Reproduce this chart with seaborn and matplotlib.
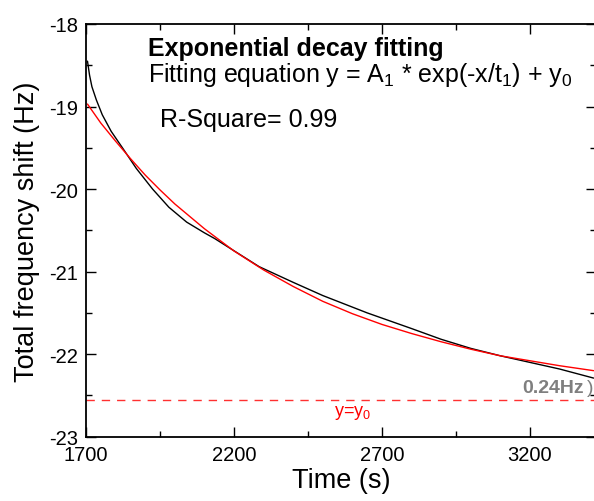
import matplotlib
matplotlib.use("Agg")
import matplotlib.pyplot as plt
import numpy as np
import pandas as pd
import seaborn as sns
from matplotlib.ticker import MultipleLocator

# measured frequency shift (black)
t_data = [1705, 1712, 1720, 1735, 1755, 1785, 1825, 1870, 1925, 1980, 2040,
          2100, 2120, 2135, 2210, 2285, 2400, 2500, 2650, 2800, 2900, 3000,
          3100, 3200, 3300, 3415]
y_data = [-18.45, -18.62, -18.76, -18.92, -19.10, -19.30, -19.51, -19.75,
          -20.00, -20.22, -20.40, -20.53, -20.57, -20.60, -20.77, -20.94,
          -21.13, -21.29, -21.50, -21.69, -21.82, -21.93, -22.02, -22.10,
          -22.18, -22.29]

# exponential decay fit (red)
t_fit = [1705, 1750, 1800, 1850, 1900, 1950, 2000, 2100, 2200, 2300, 2400,
         2500, 2600, 2700, 2800, 2900, 3000, 3100, 3200, 3300, 3415]
y_fit = [-18.97, -19.20, -19.42, -19.63, -19.83, -20.01, -20.18, -20.48,
         -20.75, -20.98, -21.18, -21.36, -21.51, -21.64, -21.75, -21.85,
         -21.94, -22.02, -22.08, -22.14, -22.20]

y0 = -22.55
x_ticks = [1700, 2200, 2700, 3200]
y_ticks = [-23, -22, -21, -20, -19, -18]

df_data = pd.DataFrame({"t": t_data, "y": y_data})
df_fit = pd.DataFrame({"t": t_fit, "y": y_fit})

sns.set_theme(style="ticks")
plt.rcParams["font.family"] = ["Liberation Sans", "DejaVu Sans"]
plt.rcParams["mathtext.fontset"] = "custom"
plt.rcParams["mathtext.rm"] = "Liberation Sans"
plt.rcParams["mathtext.it"] = "Liberation Sans:italic"
plt.rcParams["axes.unicode_minus"] = False
for key in ["text.color", "axes.labelcolor", "xtick.color", "ytick.color",
            "axes.edgecolor"]:
    plt.rcParams[key] = "black"

W, H = 594, 502
fig = plt.figure(figsize=(W / 100, H / 100), dpi=100)
ax = fig.add_axes([86 / W, 1 - 437.7 / H, (596 - 86) / W, (437.7 - 25) / H])

sns.lineplot(data=df_data, x="t", y="y", color="black", linewidth=1.0, ax=ax)
sns.lineplot(data=df_fit, x="t", y="y", color="#ff0000", linewidth=1.0, ax=ax)
ax.axhline(y0, color="#ff3030", linestyle=(0, (6, 5)), linewidth=1.0)

ax.set_xlim(1700, 3423)
ax.set_ylim(-23, -18)
ax.set_xticks(x_ticks)
ax.set_yticks(y_ticks)
ax.xaxis.set_minor_locator(MultipleLocator(250, offset=200))
ax.yaxis.set_minor_locator(MultipleLocator(0.5))
ax.tick_params(which="both", direction="in", top=True, right=True,
               width=1.0, color="black", labelsize=14.5, pad=6)
ax.tick_params(which="major", length=7)
ax.tick_params(which="minor", length=4)
for s in ax.spines.values():
    s.set_visible(True)
    s.set_linewidth(1.3)
    s.set_color("black")

ax.set_xlabel("Time (s)", fontsize=19.5, labelpad=2)
ax.set_ylabel("Total frequency shift (Hz)", fontsize=19.5, labelpad=6)

fig.text(148 / W, 1 - 56 / H, "Exponential decay fitting", fontsize=18,
         fontweight="bold", va="baseline", ha="left")
fig.text(148 / W, 1 - 82 / H,
         r"Fitting equation y = A$_1$ * exp(-x/t$_1$) + y$_0$",
         fontsize=18, va="baseline", ha="left")
fig.text(160 / W, 1 - 127 / H, "R-Square= 0.99", fontsize=18,
         va="baseline", ha="left")

ax.text(3278, -22.40, "0.24Hz", color="#7f7f7f", fontsize=14,
        fontweight="bold", ha="center", va="center")
ax.text(3405, -22.40, ")", color="#7f7f7f", fontsize=14,
        ha="center", va="center")
ax.text(2602, -22.70, r"y=y$_0$", color="#ff0000", fontsize=13,
        ha="center", va="center")

fig.savefig("out.png", dpi=100)
